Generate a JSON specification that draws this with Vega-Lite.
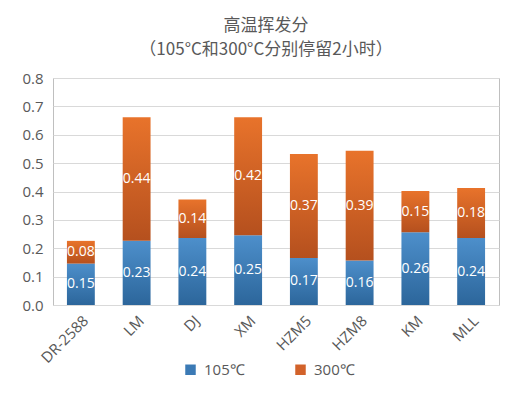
{
  "$schema": "https://vega.github.io/schema/vega-lite/v6.json",
  "width": 446,
  "height": 227,
  "autosize": {"type": "none"},
  "padding": {"left": 53, "top": 78, "right": 21, "bottom": 89},
  "background": "white",
  "config": {
    "view": {"stroke": "#bfbfbf", "strokeWidth": 1},
    "font": "Open Sans"
  },
  "title": {
    "text": ["高温挥发分", "（105°C和300°C分别停留2小时）"],
    "fontSize": 17,
    "fontWeight": "normal",
    "color": "#595959",
    "font": "Noto Sans CJK SC",
    "lineHeight": 24,
    "anchor": "middle",
    "offset": 12,
    "dx": -10
  },
  "data": {
    "values": [
      {"sample": "DR-2588", "temp": "105℃", "value": 0.146},
      {"sample": "DR-2588", "temp": "300℃", "value": 0.080},
      {"sample": "LM", "temp": "105℃", "value": 0.226},
      {"sample": "LM", "temp": "300℃", "value": 0.436},
      {"sample": "DJ", "temp": "105℃", "value": 0.236},
      {"sample": "DJ", "temp": "300℃", "value": 0.136},
      {"sample": "XM", "temp": "105℃", "value": 0.246},
      {"sample": "XM", "temp": "300℃", "value": 0.416},
      {"sample": "HZM5", "temp": "105℃", "value": 0.166},
      {"sample": "HZM5", "temp": "300℃", "value": 0.366},
      {"sample": "HZM8", "temp": "105℃", "value": 0.157},
      {"sample": "HZM8", "temp": "300℃", "value": 0.387},
      {"sample": "KM", "temp": "105℃", "value": 0.256},
      {"sample": "KM", "temp": "300℃", "value": 0.146},
      {"sample": "MLL", "temp": "105℃", "value": 0.236},
      {"sample": "MLL", "temp": "300℃", "value": 0.176}
    ]
  },
  "transform": [
    {"stack": "value", "groupby": ["sample"], "sort": [{"field": "temp", "order": "ascending"}], "as": ["v0", "v1"]}
  ],
  "encoding": {
    "x": {
      "field": "sample",
      "type": "nominal",
      "sort": ["DR-2588", "LM", "DJ", "XM", "HZM5", "HZM8", "KM", "MLL"],
      "scale": {"paddingInner": 0.5, "paddingOuter": 0.25},
      "axis": {
        "title": null,
        "labelAngle": -45,
        "labelFontSize": 15,
        "labelColor": "#595959",
        "ticks": false,
        "domain": false,
        "labelPadding": 8
      }
    },
    "y": {
      "field": "v0",
      "type": "quantitative",
      "scale": {"domain": [0, 0.8], "nice": false},
      "axis": {
        "title": null,
        "values": [0, 0.1, 0.2, 0.3, 0.4, 0.5, 0.6, 0.7, 0.8],
        "format": ".1f",
        "labelFontSize": 15,
        "labelColor": "#595959",
        "ticks": false,
        "domain": false,
        "gridColor": "#d9d9d9",
        "labelPadding": 10
      }
    },
    "y2": {"field": "v1"}
  },
  "layer": [
    {
      "transform": [{"filter": {"field": "temp", "equal": "105℃"}}],
      "mark": {
        "type": "bar",
        "color": {"gradient": "linear", "x1": 0, "y1": 0, "x2": 0, "y2": 1, "stops": [{"offset": 0, "color": "#4d8fcb"}, {"offset": 1, "color": "#2c669b"}]}
      }
    },
    {
      "transform": [{"filter": {"field": "temp", "equal": "300℃"}}],
      "mark": {
        "type": "bar",
        "color": {"gradient": "linear", "x1": 0, "y1": 0, "x2": 0, "y2": 1, "stops": [{"offset": 0, "color": "#e8732b"}, {"offset": 1, "color": "#b5501e"}]}
      }
    },
    {
      "mark": {"type": "square", "opacity": 0, "filled": true},
      "encoding": {
        "y2": null,
        "color": {
          "field": "temp",
          "type": "nominal",
          "scale": {"domain": ["105℃", "300℃"], "range": ["#3b7ab5", "#d2622a"]},
          "legend": {
            "title": null,
            "orient": "none",
            "legendX": 130,
            "legendY": 284,
            "direction": "horizontal",
            "symbolType": "square",
            "symbolSize": 110,
            "symbolOpacity": 1,
            "symbolStrokeWidth": 0,
            "labelFontSize": 15,
            "labelColor": "#595959",
            "columnPadding": 48,
            "labelOffset": 6
          }
        }
      }
    },
    {
      "transform": [
        {"fold": ["v0", "v1"], "as": ["edge", "pos"]},
        {"aggregate": [{"op": "mean", "field": "pos", "as": "mid"}], "groupby": ["sample", "temp", "value"]}
      ],
      "mark": {"type": "text", "color": "white", "fontSize": 14, "baseline": "middle"},
      "encoding": {
        "y": {"field": "mid", "type": "quantitative"},
        "y2": null,
        "text": {"field": "value", "type": "quantitative", "format": ".2f"}
      }
    }
  ]
}
